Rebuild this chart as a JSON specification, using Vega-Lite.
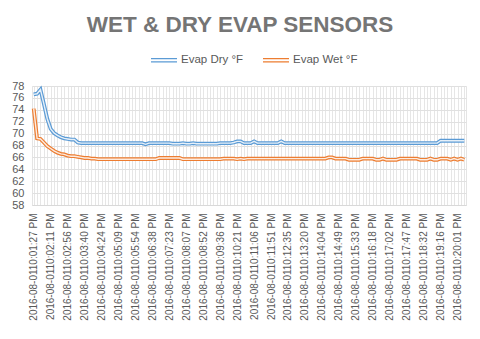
{
  "$schema": "https://vega.github.io/schema/vega-lite/v6.json",
  "width": 434,
  "height": 119,
  "autosize": "none",
  "padding": {"left": 32, "top": 86, "right": 14, "bottom": 134},
  "background": "white",
  "title": {
    "text": "WET & DRY EVAP SENSORS",
    "font": "Liberation Sans",
    "fontSize": 22.5,
    "fontWeight": "bold",
    "color": "#757575",
    "anchor": "middle",
    "frame": "group",
    "dx": -9,
    "dy": 25,
    "offset": 12,
    "baseline": "bottom"
  },
  "config": {
    "view": {"stroke": "#e4e4e4"},
    "font": "Liberation Sans",
    "axis": {"labelFont": "Liberation Sans", "labelColor": "#595959", "labelFontSize": 10, "ticks": false, "title": null},
    "legend": {"labelFont": "Liberation Sans", "labelColor": "#595959", "labelFontSize": 11.5}
  },
  "data": {
    "values": [
      {"t": "2016-08-0110:01:27 PM", "dry": 76.6, "wet": 74.2},
      {"t": "2016-08-0110:01:36 PM", "dry": 76.7, "wet": 69.2},
      {"t": "2016-08-0110:01:45 PM", "dry": 77.4, "wet": 69.1},
      {"t": "2016-08-0110:01:54 PM", "dry": 75.0, "wet": 68.5},
      {"t": "2016-08-0110:02:03 PM", "dry": 72.5, "wet": 67.9},
      {"t": "2016-08-0110:02:11 PM", "dry": 70.8, "wet": 67.5},
      {"t": "2016-08-0110:02:20 PM", "dry": 70.1, "wet": 67.1},
      {"t": "2016-08-0110:02:29 PM", "dry": 69.7, "wet": 66.8},
      {"t": "2016-08-0110:02:38 PM", "dry": 69.4, "wet": 66.6},
      {"t": "2016-08-0110:02:47 PM", "dry": 69.2, "wet": 66.5},
      {"t": "2016-08-0110:02:56 PM", "dry": 69.1, "wet": 66.3},
      {"t": "2016-08-0110:03:05 PM", "dry": 69.0, "wet": 66.2},
      {"t": "2016-08-0110:03:14 PM", "dry": 69.0, "wet": 66.2},
      {"t": "2016-08-0110:03:23 PM", "dry": 68.5, "wet": 66.1},
      {"t": "2016-08-0110:03:32 PM", "dry": 68.4, "wet": 66.0},
      {"t": "2016-08-0110:03:40 PM", "dry": 68.4, "wet": 65.9},
      {"t": "2016-08-0110:03:49 PM", "dry": 68.4, "wet": 65.9},
      {"t": "2016-08-0110:03:58 PM", "dry": 68.4, "wet": 65.8},
      {"t": "2016-08-0110:04:07 PM", "dry": 68.4, "wet": 65.8},
      {"t": "2016-08-0110:04:16 PM", "dry": 68.4, "wet": 65.7},
      {"t": "2016-08-0110:04:24 PM", "dry": 68.4, "wet": 65.7},
      {"t": "2016-08-0110:04:33 PM", "dry": 68.4, "wet": 65.7},
      {"t": "2016-08-0110:04:42 PM", "dry": 68.4, "wet": 65.7},
      {"t": "2016-08-0110:04:51 PM", "dry": 68.4, "wet": 65.7},
      {"t": "2016-08-0110:05:00 PM", "dry": 68.4, "wet": 65.7},
      {"t": "2016-08-0110:05:09 PM", "dry": 68.4, "wet": 65.7},
      {"t": "2016-08-0110:05:18 PM", "dry": 68.4, "wet": 65.7},
      {"t": "2016-08-0110:05:27 PM", "dry": 68.4, "wet": 65.7},
      {"t": "2016-08-0110:05:36 PM", "dry": 68.4, "wet": 65.7},
      {"t": "2016-08-0110:05:45 PM", "dry": 68.4, "wet": 65.7},
      {"t": "2016-08-0110:05:54 PM", "dry": 68.4, "wet": 65.7},
      {"t": "2016-08-0110:06:03 PM", "dry": 68.4, "wet": 65.7},
      {"t": "2016-08-0110:06:12 PM", "dry": 68.4, "wet": 65.7},
      {"t": "2016-08-0110:06:21 PM", "dry": 68.2, "wet": 65.7},
      {"t": "2016-08-0110:06:30 PM", "dry": 68.4, "wet": 65.7},
      {"t": "2016-08-0110:06:38 PM", "dry": 68.4, "wet": 65.7},
      {"t": "2016-08-0110:06:47 PM", "dry": 68.4, "wet": 65.7},
      {"t": "2016-08-0110:06:56 PM", "dry": 68.4, "wet": 65.9},
      {"t": "2016-08-0110:07:05 PM", "dry": 68.4, "wet": 65.9},
      {"t": "2016-08-0110:07:14 PM", "dry": 68.4, "wet": 65.9},
      {"t": "2016-08-0110:07:23 PM", "dry": 68.4, "wet": 65.9},
      {"t": "2016-08-0110:07:32 PM", "dry": 68.3, "wet": 65.9},
      {"t": "2016-08-0110:07:41 PM", "dry": 68.3, "wet": 65.9},
      {"t": "2016-08-0110:07:50 PM", "dry": 68.3, "wet": 65.9},
      {"t": "2016-08-0110:07:59 PM", "dry": 68.4, "wet": 65.7},
      {"t": "2016-08-0110:08:07 PM", "dry": 68.3, "wet": 65.7},
      {"t": "2016-08-0110:08:16 PM", "dry": 68.3, "wet": 65.7},
      {"t": "2016-08-0110:08:25 PM", "dry": 68.4, "wet": 65.7},
      {"t": "2016-08-0110:08:34 PM", "dry": 68.3, "wet": 65.7},
      {"t": "2016-08-0110:08:43 PM", "dry": 68.3, "wet": 65.7},
      {"t": "2016-08-0110:08:52 PM", "dry": 68.3, "wet": 65.7},
      {"t": "2016-08-0110:09:01 PM", "dry": 68.3, "wet": 65.7},
      {"t": "2016-08-0110:09:10 PM", "dry": 68.3, "wet": 65.7},
      {"t": "2016-08-0110:09:19 PM", "dry": 68.3, "wet": 65.7},
      {"t": "2016-08-0110:09:28 PM", "dry": 68.3, "wet": 65.7},
      {"t": "2016-08-0110:09:36 PM", "dry": 68.4, "wet": 65.7},
      {"t": "2016-08-0110:09:45 PM", "dry": 68.4, "wet": 65.8},
      {"t": "2016-08-0110:09:54 PM", "dry": 68.4, "wet": 65.8},
      {"t": "2016-08-0110:10:03 PM", "dry": 68.4, "wet": 65.8},
      {"t": "2016-08-0110:10:12 PM", "dry": 68.5, "wet": 65.8},
      {"t": "2016-08-0110:10:21 PM", "dry": 68.7, "wet": 65.7},
      {"t": "2016-08-0110:10:30 PM", "dry": 68.7, "wet": 65.8},
      {"t": "2016-08-0110:10:39 PM", "dry": 68.4, "wet": 65.7},
      {"t": "2016-08-0110:10:48 PM", "dry": 68.4, "wet": 65.8},
      {"t": "2016-08-0110:10:57 PM", "dry": 68.4, "wet": 65.8},
      {"t": "2016-08-0110:11:06 PM", "dry": 68.7, "wet": 65.8},
      {"t": "2016-08-0110:11:15 PM", "dry": 68.4, "wet": 65.8},
      {"t": "2016-08-0110:11:24 PM", "dry": 68.4, "wet": 65.8},
      {"t": "2016-08-0110:11:33 PM", "dry": 68.4, "wet": 65.8},
      {"t": "2016-08-0110:11:42 PM", "dry": 68.4, "wet": 65.8},
      {"t": "2016-08-0110:11:51 PM", "dry": 68.4, "wet": 65.8},
      {"t": "2016-08-0110:12:00 PM", "dry": 68.4, "wet": 65.8},
      {"t": "2016-08-0110:12:09 PM", "dry": 68.4, "wet": 65.8},
      {"t": "2016-08-0110:12:18 PM", "dry": 68.7, "wet": 65.8},
      {"t": "2016-08-0110:12:27 PM", "dry": 68.4, "wet": 65.8},
      {"t": "2016-08-0110:12:35 PM", "dry": 68.4, "wet": 65.8},
      {"t": "2016-08-0110:12:44 PM", "dry": 68.4, "wet": 65.8},
      {"t": "2016-08-0110:12:53 PM", "dry": 68.4, "wet": 65.8},
      {"t": "2016-08-0110:13:02 PM", "dry": 68.4, "wet": 65.8},
      {"t": "2016-08-0110:13:11 PM", "dry": 68.4, "wet": 65.8},
      {"t": "2016-08-0110:13:20 PM", "dry": 68.4, "wet": 65.8},
      {"t": "2016-08-0110:13:29 PM", "dry": 68.4, "wet": 65.8},
      {"t": "2016-08-0110:13:38 PM", "dry": 68.4, "wet": 65.8},
      {"t": "2016-08-0110:13:47 PM", "dry": 68.4, "wet": 65.8},
      {"t": "2016-08-0110:13:56 PM", "dry": 68.4, "wet": 65.8},
      {"t": "2016-08-0110:14:04 PM", "dry": 68.4, "wet": 65.8},
      {"t": "2016-08-0110:14:13 PM", "dry": 68.4, "wet": 65.8},
      {"t": "2016-08-0110:14:22 PM", "dry": 68.4, "wet": 66.0},
      {"t": "2016-08-0110:14:31 PM", "dry": 68.4, "wet": 66.0},
      {"t": "2016-08-0110:14:40 PM", "dry": 68.4, "wet": 65.8},
      {"t": "2016-08-0110:14:49 PM", "dry": 68.4, "wet": 65.8},
      {"t": "2016-08-0110:14:58 PM", "dry": 68.4, "wet": 65.8},
      {"t": "2016-08-0110:15:07 PM", "dry": 68.4, "wet": 65.8},
      {"t": "2016-08-0110:15:16 PM", "dry": 68.4, "wet": 65.6},
      {"t": "2016-08-0110:15:25 PM", "dry": 68.4, "wet": 65.6},
      {"t": "2016-08-0110:15:33 PM", "dry": 68.4, "wet": 65.6},
      {"t": "2016-08-0110:15:42 PM", "dry": 68.4, "wet": 65.6},
      {"t": "2016-08-0110:15:51 PM", "dry": 68.4, "wet": 65.8},
      {"t": "2016-08-0110:16:00 PM", "dry": 68.4, "wet": 65.8},
      {"t": "2016-08-0110:16:09 PM", "dry": 68.4, "wet": 65.8},
      {"t": "2016-08-0110:16:18 PM", "dry": 68.4, "wet": 65.8},
      {"t": "2016-08-0110:16:27 PM", "dry": 68.4, "wet": 65.6},
      {"t": "2016-08-0110:16:36 PM", "dry": 68.4, "wet": 65.6},
      {"t": "2016-08-0110:16:45 PM", "dry": 68.4, "wet": 65.8},
      {"t": "2016-08-0110:16:54 PM", "dry": 68.4, "wet": 65.6},
      {"t": "2016-08-0110:17:02 PM", "dry": 68.4, "wet": 65.6},
      {"t": "2016-08-0110:17:11 PM", "dry": 68.4, "wet": 65.6},
      {"t": "2016-08-0110:17:20 PM", "dry": 68.4, "wet": 65.6},
      {"t": "2016-08-0110:17:29 PM", "dry": 68.4, "wet": 65.8},
      {"t": "2016-08-0110:17:38 PM", "dry": 68.4, "wet": 65.8},
      {"t": "2016-08-0110:17:47 PM", "dry": 68.4, "wet": 65.8},
      {"t": "2016-08-0110:17:56 PM", "dry": 68.4, "wet": 65.8},
      {"t": "2016-08-0110:18:05 PM", "dry": 68.4, "wet": 65.8},
      {"t": "2016-08-0110:18:14 PM", "dry": 68.4, "wet": 65.8},
      {"t": "2016-08-0110:18:23 PM", "dry": 68.4, "wet": 65.6},
      {"t": "2016-08-0110:18:32 PM", "dry": 68.4, "wet": 65.6},
      {"t": "2016-08-0110:18:41 PM", "dry": 68.4, "wet": 65.6},
      {"t": "2016-08-0110:18:50 PM", "dry": 68.4, "wet": 65.8},
      {"t": "2016-08-0110:18:59 PM", "dry": 68.4, "wet": 65.6},
      {"t": "2016-08-0110:19:08 PM", "dry": 68.4, "wet": 65.6},
      {"t": "2016-08-0110:19:16 PM", "dry": 68.8, "wet": 65.8},
      {"t": "2016-08-0110:19:25 PM", "dry": 68.8, "wet": 65.8},
      {"t": "2016-08-0110:19:34 PM", "dry": 68.8, "wet": 65.8},
      {"t": "2016-08-0110:19:43 PM", "dry": 68.8, "wet": 65.6},
      {"t": "2016-08-0110:19:52 PM", "dry": 68.8, "wet": 65.8},
      {"t": "2016-08-0110:20:01 PM", "dry": 68.8, "wet": 65.6},
      {"t": "2016-08-0110:20:10 PM", "dry": 68.8, "wet": 65.8},
      {"t": "2016-08-0110:20:19 PM", "dry": 68.8, "wet": 65.6}
    ]
  },
  "transform": [{"fold": ["dry", "wet"], "as": ["series", "value"]}],
  "encoding": {
    "x": {
      "field": "t",
      "type": "ordinal",
      "scale": {"paddingInner": 0, "paddingOuter": 0},
      "axis": {
        "labelAngle": -90,
        "labelPadding": 8,
        "labelOverlap": false,
        "labelExpr": "round(datum.index * 127) % 5 == 0 ? datum.value : ''",
        "grid": true,
        "gridColor": "#e6e6e6",
        "bandPosition": 0,
        "domainColor": "#d9d9d9"
      }
    },
    "y": {
      "field": "value",
      "type": "quantitative",
      "scale": {"domain": [58, 78], "nice": false, "zero": false},
      "axis": {
        "values": [58, 60, 62, 64, 66, 68, 70, 72, 74, 76, 78],
        "domain": false,
        "gridColor": "#e0e0e0",
        "labelPadding": 8,
        "labelFontSize": 11
      }
    }
  },
  "layer": [
    {
      "mark": {"type": "line", "strokeWidth": 3.8},
      "encoding": {
        "color": {
          "field": "series",
          "type": "nominal",
          "scale": {"domain": ["dry", "wet"], "range": ["#5b9bd5", "#ed7d31"]},
          "legend": {
            "title": null,
            "orient": "none",
            "direction": "horizontal",
            "legendX": 118,
            "legendY": -40,
            "symbolType": "M-1,-0.13H1M-1,0.13H1",
            "symbolSize": 676,
            "symbolStrokeWidth": 1.2,
            "labelOffset": 3,
            "columnPadding": 16,
            "labelExpr": "datum.value == 'dry' ? 'Evap Dry °F' : 'Evap Wet °F'"
          }
        }
      }
    },
    {
      "mark": {"type": "line", "strokeWidth": 1.4, "color": "white", "opacity": 0.85},
      "encoding": {"detail": {"field": "series"}}
    }
  ]
}
